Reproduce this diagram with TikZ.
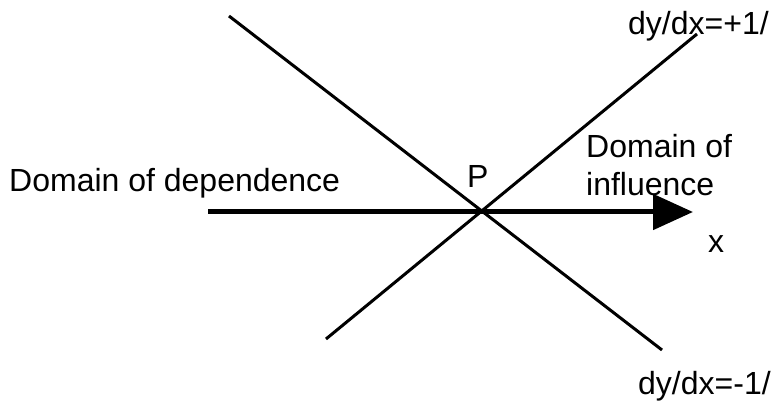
\documentclass[tikz,border=0pt]{standalone}
\usepackage{fontspec}
\setmainfont{Liberation Sans}
\usetikzlibrary{arrows.meta}

\begin{document}
\begin{tikzpicture}[
  x=1pt,y=-1pt,
  tag/.style={anchor=base west,inner sep=0pt,font=\fontsize{32}{38}\selectfont},
  charline/.style={line width=3pt},
  axis/.style={line width=5pt,-{Triangle[length=40pt,width=35pt]}}
]
  \useasboundingbox (0,0) rectangle (777,403);
  \coordinate (P) at (483,212);
  \coordinate (ul) at (229,16);
  \coordinate (lr) at (662,350);
  \coordinate (ll) at (326,339);
  \coordinate (ur) at (697,34);
  \coordinate (xstart) at (208,212);
  \coordinate (xend) at (693,212);
  \draw[charline] (ul) -- (lr);
  \draw[charline] (ll) -- (ur);
  \draw[axis] (xstart) -- (xend);
  \node[tag] (dep) at (9,192) {Domain of dependence};
  \node[tag,anchor=north west,align=left] (inf) at (586,134) {Domain of\\influence};
  \node[tag] (plabel) at (467,188) {P};
  \node[tag] (xlabel) at (708,253) {x};
  \node[tag] (plus) at (628,35) {dy/dx=+1/};
  \node[tag] (minus) at (638,395) {dy/dx=-1/};
\end{tikzpicture}
\end{document}
